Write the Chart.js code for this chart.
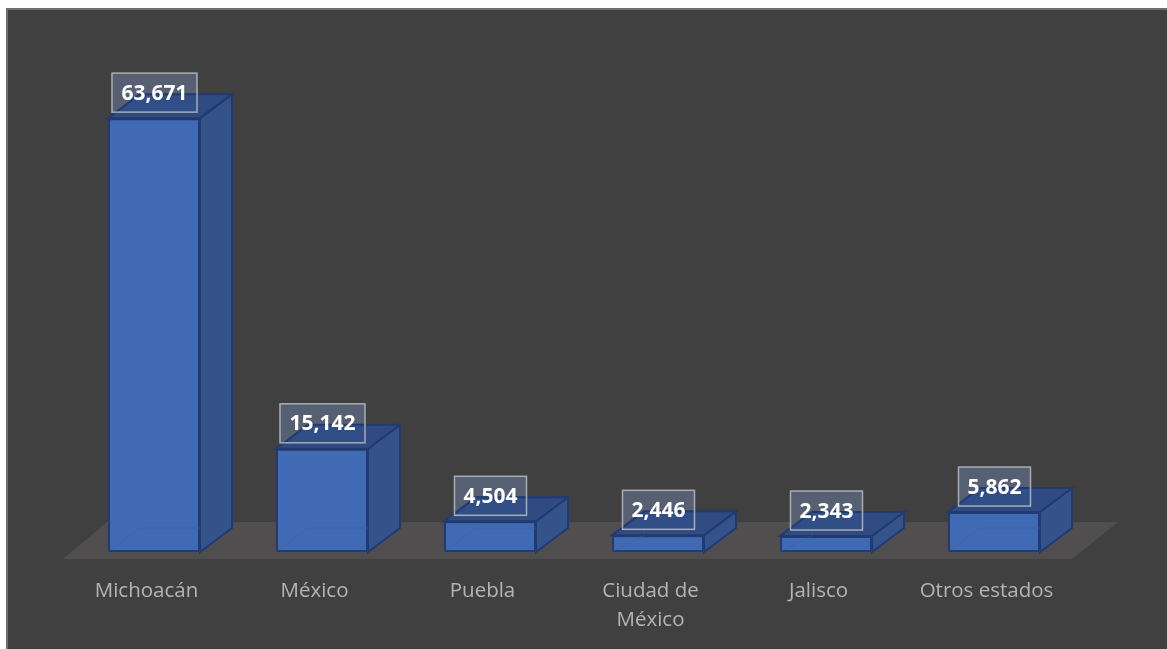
<!DOCTYPE html>
<html><head><meta charset="utf-8">
<style>html,body{margin:0;padding:0;background:#fff}canvas{display:block}</style>
<script src="https://cdn.jsdelivr.net/npm/chart.js@4"></script>
</head><body>
<div style="width:1167px;height:649px"><canvas id="c" width="1167" height="649"></canvas></div>
<script>
const categories = ["Michoacán","México","Puebla",["Ciudad de","México"],"Jalisco","Otros estados"];
const values = [63671,15142,4504,2446,2343,5862];
const valueLabels = ["63,671","15,142","4,504","2,446","2,343","5,862"];
const FONT = '"Open Sans"';
const DX = 32, DY = -24;

function poly(ctx, pts, fill, stroke){
  ctx.beginPath();
  pts.forEach((p,i)=> i?ctx.lineTo(p[0],p[1]):ctx.moveTo(p[0],p[1]));
  ctx.closePath();
  if(fill){ctx.fillStyle=fill;ctx.fill();}
  if(stroke){ctx.strokeStyle=stroke;ctx.lineWidth=2;ctx.stroke();}
}
function labelBox(b,i){
  const w=valueLabels[i].length>5?85:72, h=39;
  return {x:b.x-w/2+0.5,y:b.y-6-h,w,h};
}
const scene = {
  id:'scene',
  beforeDraw(chart){
    const {ctx,width,height}=chart;
    ctx.save();
    ctx.fillStyle='#fff';ctx.fillRect(0,0,width,height);
    ctx.fillStyle='#404040';ctx.fillRect(6,8,width-6,height-8);
    ctx.strokeStyle='#6e6e6e';ctx.lineWidth=2;
    ctx.beginPath();ctx.moveTo(7,height);ctx.lineTo(7,9);ctx.lineTo(width,9);ctx.stroke();
    ctx.restore();
  },
  beforeDatasetsDraw(chart){
    const {ctx,chartArea:a}=chart;
    ctx.save();
    // floor
    poly(ctx,[[a.left-7,a.bottom+7],[a.right-6,a.bottom+7],[a.right+40,a.bottom-30],[a.left+37,a.bottom-30]],'#504e4e');
    chart.getDatasetMeta(0).data.forEach((b,i)=>{
      const l=b.x-b.width/2,r=b.x+b.width/2,t=b.y,bt=b.base;
      const k=labelBox(b,i);
      ctx.fillStyle='#576072';ctx.fillRect(k.x,k.y,k.w,k.h);
      poly(ctx,[[r,t],[r+DX,t+DY],[r+DX,bt+DY],[r,bt]],'#35538b','#203a72');
      poly(ctx,[[l,t],[l+DX,t+DY],[r+DX,t+DY],[r,t]],'rgba(46,76,136,.93)','#203a72');
    });
    ctx.restore();
  },
  afterDatasetsDraw(chart){
    const {ctx}=chart;
    ctx.save();
    chart.getDatasetMeta(0).data.forEach((b,i)=>{
      const l=b.x-b.width/2,r=b.x+b.width/2,t=b.y,bt=b.base;
      // faint inner edges of the translucent box
      ctx.strokeStyle='rgba(58,96,165,.5)';ctx.lineWidth=1;
      ctx.beginPath();
      ctx.moveTo(l+1,bt-1);ctx.lineTo(Math.min(l+DX,r),Math.max(bt+DY,t));
      ctx.moveTo(l+DX,Math.max(t,bt+DY));ctx.lineTo(l+DX,bt+DY);
      if(bt+DY>t){ctx.moveTo(l+DX,bt+DY);ctx.lineTo(r,bt+DY);}
      ctx.stroke();
      // value label
      const k=labelBox(b,i);
      ctx.strokeStyle='#a9adb4';ctx.lineWidth=1.5;ctx.strokeRect(k.x,k.y,k.w,k.h);
      ctx.fillStyle='#fff';ctx.font='bold 21px '+FONT;ctx.textAlign='center';ctx.textBaseline='middle';
      ctx.fillText(valueLabels[i],k.x+k.w/2,k.y+k.h/2+1);
    });
    ctx.restore();
  }
};
new Chart(document.getElementById('c'),{
  type:'bar',
  data:{labels:categories,datasets:[{data:values,backgroundColor:'#416ab4',borderColor:'#203a72',borderWidth:2,borderSkipped:false,barPercentage:92/168,categoryPercentage:1}]},
  options:{
    responsive:false,animation:false,
    layout:{padding:{left:70,right:89,top:75,bottom:0}},
    plugins:{legend:{display:false},tooltip:{enabled:false}},
    scales:{
      y:{display:false,min:0,max:70000},
      x:{
        afterFit(s){s.height=97;},
        grid:{display:false},border:{display:false},
        ticks:{color:'#b4b4b4',font:{family:FONT,size:20.5,lineHeight:1.45},padding:16,labelOffset:-7.5,maxRotation:0,autoSkip:false}
      }
    }
  },
  plugins:[scene]
});
</script>
</body></html>
